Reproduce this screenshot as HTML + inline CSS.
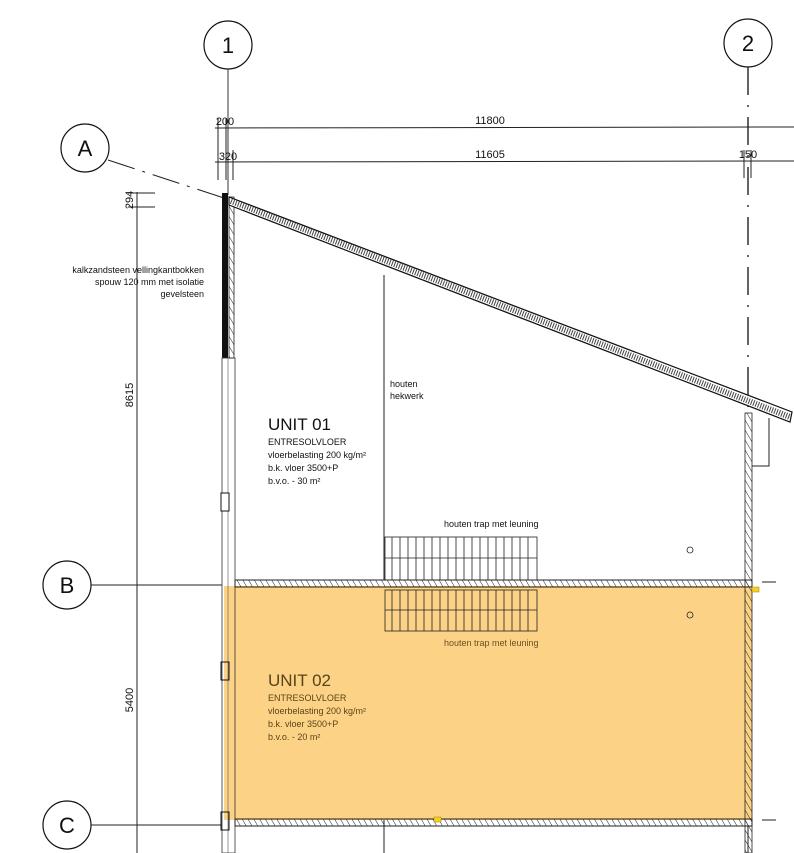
<!DOCTYPE html>
<html><head><meta charset="utf-8"><style>
html,body{margin:0;padding:0;background:#fff;}
svg{display:block;font-family:"Liberation Sans",sans-serif;}
</style></head><body>
<svg width="794" height="853" viewBox="0 0 794 853" xmlns="http://www.w3.org/2000/svg">
<defs>
<pattern id="h" width="5" height="5" patternUnits="userSpaceOnUse" patternTransform="rotate(-30)">
<line x1="0" y1="0" x2="0" y2="5" stroke="#222" stroke-width="1"/></pattern>
</defs>
<rect x="224" y="586" width="528" height="234" fill="#fcd386"/>
<g fill="#fff" stroke="#111" stroke-width="1.2">
<circle cx="228" cy="45" r="24"/><circle cx="748" cy="43" r="24"/>
<circle cx="85" cy="148" r="24"/><circle cx="67" cy="585" r="24"/><circle cx="67" cy="825" r="24"/>
</g>
<g font-size="22" text-anchor="middle" fill="#111">
<text x="228" y="53">1</text><text x="748" y="51">2</text><text x="85" y="156">A</text>
<text x="67" y="593">B</text><text x="67" y="833">C</text>
</g>
<line x1="228" y1="69" x2="228" y2="195" stroke="#333" stroke-width="1"/>
<line x1="748" y1="67" x2="748" y2="410" stroke="#222" stroke-width="1.4" stroke-dasharray="28,10,2,10"/>
<line x1="748" y1="825" x2="748" y2="853" stroke="#222" stroke-width="1"/>
<line x1="108" y1="160" x2="230" y2="200" stroke="#222" stroke-width="1" stroke-dasharray="28,8,3,8"/>
<line x1="91" y1="585" x2="222" y2="585" stroke="#222" stroke-width="1"/>
<line x1="91" y1="825" x2="222" y2="825" stroke="#222" stroke-width="1"/>
<line x1="762" y1="582" x2="776" y2="582" stroke="#222"/><line x1="762" y1="820" x2="776" y2="820" stroke="#222"/>
<g stroke="#222" stroke-width="1">
<line x1="215" y1="128" x2="794" y2="127"/>
<line x1="215" y1="162" x2="794" y2="161"/>
<line x1="218" y1="118" x2="218" y2="180"/><line x1="226" y1="118" x2="226" y2="180"/>
<line x1="233" y1="150" x2="233" y2="180"/>
<line x1="744" y1="150" x2="744" y2="178"/><line x1="751" y1="150" x2="751" y2="178"/>
<line x1="137" y1="192" x2="137" y2="853"/>
<line x1="128" y1="193" x2="155" y2="193"/><line x1="128" y1="207" x2="155" y2="207"/>
<line x1="128" y1="585" x2="150" y2="585"/><line x1="128" y1="825" x2="150" y2="825"/>
</g>
<g font-size="11" fill="#111" text-anchor="middle">
<text x="225" y="125">200</text><text x="490" y="124">11800</text>
<text x="228" y="160">320</text><text x="490" y="158">11605</text><text x="748" y="158">150</text>
<text transform="translate(133,200) rotate(-90)">294</text>
<text transform="translate(133,395) rotate(-90)">8615</text>
<text transform="translate(133,700) rotate(-90)">5400</text>
</g>
<g font-size="9" fill="#111" text-anchor="end">
<text x="204" y="273">kalkzandsteen vellingkantbokken</text>
<text x="204" y="285">spouw 120 mm met isolatie</text>
<text x="204" y="297">gevelsteen</text>
</g>
<rect x="222" y="193" width="6" height="165" fill="#111"/>
<rect x="229" y="197" width="5" height="161" fill="url(#h)" stroke="#222" stroke-width="0.8"/>
<rect x="222" y="358" width="13" height="495" fill="none" stroke="#333" stroke-width="0.8"/>
<line x1="228" y1="358" x2="228" y2="853" stroke="#555" stroke-width="0.6"/>
<rect x="221" y="493" width="8" height="18" fill="#fff" stroke="#111"/>
<rect x="221" y="662" width="8" height="18" fill="none" stroke="#111"/>
<rect x="221" y="812" width="8" height="18" fill="none" stroke="#111"/>
<polygon points="229,197 792,412 790,422 229,205" fill="#fff" stroke="#111" stroke-width="1.2"/>
<line x1="231" y1="201" x2="790" y2="417" stroke="#222" stroke-width="6" stroke-dasharray="1,1.5" opacity="0.85"/>
<rect x="745" y="413" width="7" height="440" fill="url(#h)" stroke="#222" stroke-width="0.8"/>
<polyline points="769,418 769,466 752,466" fill="none" stroke="#222"/>
<line x1="384" y1="275" x2="384" y2="580" stroke="#222"/>
<line x1="384" y1="820" x2="384" y2="853" stroke="#222"/>
<text x="390" y="387" font-size="9" fill="#111">houten</text>
<text x="390" y="399" font-size="9" fill="#111">hekwerk</text>
<rect x="235" y="580" width="517" height="7" fill="url(#h)" stroke="#222" stroke-width="1"/>
<rect x="235" y="819" width="517" height="7" fill="url(#h)" stroke="#222" stroke-width="1"/>
<g stroke="#222" stroke-width="0.8" fill="none">
<rect x="385" y="537" width="152" height="43"/>
<rect x="385" y="590" width="152" height="41"/>
<path d="M392 537V580M400 537V580M408 537V580M416 537V580M424 537V580M432 537V580M440 537V580M448 537V580M456 537V580M464 537V580M472 537V580M480 537V580M488 537V580M496 537V580M504 537V580M512 537V580M520 537V580M528 537V580"/>
<path d="M392 590V631M400 590V631M408 590V631M416 590V631M424 590V631M432 590V631M440 590V631M448 590V631M456 590V631M464 590V631M472 590V631M480 590V631M488 590V631M496 590V631M504 590V631M512 590V631M520 590V631M528 590V631"/>
<line x1="385" y1="558" x2="537" y2="558"/><line x1="385" y1="610" x2="537" y2="610"/>
<circle cx="690" cy="550" r="3"/><circle cx="690" cy="615" r="3"/>
</g>
<text x="444" y="527" font-size="9" fill="#111">houten trap met leuning</text>
<text x="444" y="646" font-size="9" fill="#6b5020">houten trap met leuning</text>
<g fill="#111">
<text x="268" y="430" font-size="17">UNIT 01</text>
<text x="268" y="445" font-size="9">ENTRESOLVLOER</text>
<text x="268" y="458" font-size="9">vloerbelasting 200 kg/m²</text>
<text x="268" y="471" font-size="9">b.k. vloer 3500+P</text>
<text x="268" y="484" font-size="9">b.v.o. - 30 m²</text>
</g>
<g fill="#5a4318">
<text x="268" y="686" font-size="17">UNIT 02</text>
<text x="268" y="701" font-size="9">ENTRESOLVLOER</text>
<text x="268" y="714" font-size="9">vloerbelasting 200 kg/m²</text>
<text x="268" y="727" font-size="9">b.k. vloer 3500+P</text>
<text x="268" y="740" font-size="9">b.v.o. - 20 m²</text>
</g>
<rect x="752" y="587" width="7" height="5" fill="#f5d020" stroke="#a08010" stroke-width="0.5"/>
<rect x="434" y="817" width="7" height="5" fill="#f5d020" stroke="#a08010" stroke-width="0.5"/>
</svg>
</body></html>
